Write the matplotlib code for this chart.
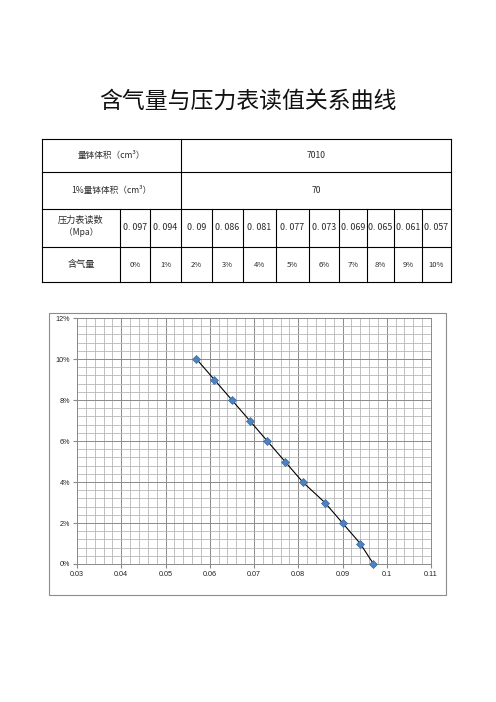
import numpy as np
import matplotlib.pyplot as plt
from matplotlib.patches import Rectangle
from matplotlib.ticker import MultipleLocator, FuncFormatter

plt.rcParams['font.family'] = ['Noto Sans CJK SC', 'DejaVu Sans']

# --- data ---
title = "含气量与压力表读值关系曲线"
bowl_volume = "7010"
bowl_volume_1pct = "70"
pressure = [0.097, 0.094, 0.09, 0.086, 0.081, 0.077, 0.073, 0.069, 0.065, 0.061, 0.057]
pressure_labels = ["0. 097", "0. 094", "0. 09", "0. 086", "0. 081", "0. 077",
                   "0. 073", "0. 069", "0. 065", "0. 061", "0. 057"]
air_content = [0, 1, 2, 3, 4, 5, 6, 7, 8, 9, 10]

W, H = 496, 702
fig = plt.figure(figsize=(W / 100, H / 100), dpi=100)

# overlay axes in pixel coordinates for title / table / chart frame
ov = fig.add_axes([0, 0, 1, 1])
ov.set_xlim(0, W)
ov.set_ylim(H, 0)
ov.axis('off')

ov.text(248, 101, title, ha='center', va='center', fontsize=16.5,
        fontweight='light', color='#111111')

# --- table ---
tl, tr = 42, 451
rows = [139, 172, 209, 247, 282]
cols = [42, 120, 150, 181, 212, 243, 276, 309, 339, 367, 394, 422, 451]
lc = 'black'
lw = 0.8
for y in rows:
    ov.plot([tl, tr], [y, y], color=lc, lw=lw)
ov.plot([tl, tl], [rows[0], rows[-1]], color=lc, lw=lw)
ov.plot([tr, tr], [rows[0], rows[-1]], color=lc, lw=lw)
ov.plot([181, 181], [rows[0], rows[2]], color=lc, lw=lw)
for x in cols[1:-1]:
    ov.plot([x, x], [rows[2], rows[4]], color=lc, lw=lw)

fs = 6.2
tc = '#2a2a2a'
kw = dict(ha='center', va='center', color=tc, fontweight='light')
ov.text((tl + 181) / 2, 155.5, "量钵体积（cm³）", fontsize=fs, **kw)
ov.text((181 + tr) / 2, 155.5, bowl_volume, fontsize=fs, **kw)
ov.text((tl + 181) / 2, 190.5, "1%量钵体积（cm³）", fontsize=fs, **kw)
ov.text((181 + tr) / 2, 190.5, bowl_volume_1pct, fontsize=fs, **kw)
ov.text((tl + 120) / 2, 220, "压力表读数", fontsize=fs + 0.4, **kw)
ov.text((tl + 120) / 2, 232, "（Mpa）", fontsize=fs, **kw)
ov.text((tl + 120) / 2, 264.5, "含气量", fontsize=fs + 0.4, **kw)
for i, (p, a) in enumerate(zip(pressure_labels, air_content)):
    xc = (cols[i + 1] + cols[i + 2]) / 2
    ov.text(xc, 228, p, fontsize=6.4, **kw)
    ov.text(xc, 265, f"{a}%", fontsize=5.5, **kw)

# chart outer frame
ov.add_patch(Rectangle((49, 313), 397, 282, fill=False, edgecolor='#8c8c8c', lw=0.8))

# --- chart ---
ax = fig.add_axes([77 / W, 1 - 564 / H, (431 - 77) / W, (564 - 318) / H])
ax.set_xlim(0.03, 0.11)
ax.set_ylim(0, 12)
ax.xaxis.set_major_locator(MultipleLocator(0.01))
ax.xaxis.set_minor_locator(MultipleLocator(0.002))
ax.yaxis.set_major_locator(MultipleLocator(2))
ax.yaxis.set_minor_locator(MultipleLocator(0.4))
ax.grid(which='minor', color='#b8b8b8', lw=0.6)
ax.grid(which='major', color='#8a8a8a', lw=0.7)
ax.set_axisbelow(True)

ax.xaxis.set_major_formatter(FuncFormatter(lambda v, _: "%g" % round(v, 2)))
ax.yaxis.set_major_formatter(FuncFormatter(lambda v, _: f"{v:.0f}%"))
ax.tick_params(which='major', length=3, color='#8a8a8a', labelsize=5.2, pad=2,
               labelcolor='#222222')
ax.tick_params(which='minor', length=0)
for lab in ax.get_xticklabels() + ax.get_yticklabels():
    lab.set_family('Liberation Sans')
for s in ax.spines.values():
    s.set_color('#8a8a8a')
    s.set_linewidth(0.7)

ax.plot(pressure, air_content, color='black', lw=0.8, zorder=3)
ax.plot(pressure, air_content, linestyle='none', marker='D', markersize=4,
        markerfacecolor='#4f81bd', markeredgecolor='#3a6aa5', markeredgewidth=0.5,
        zorder=4, clip_on=False)

fig.savefig("out.png", dpi=100)
